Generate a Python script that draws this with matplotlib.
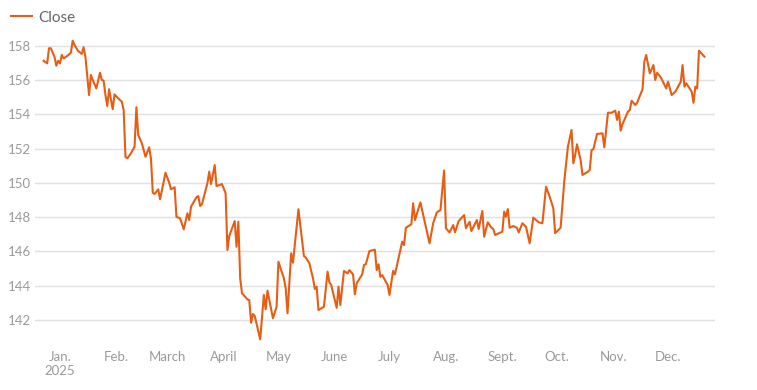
import matplotlib

matplotlib.use("Agg")

import matplotlib.pyplot as plt
import pandas as pd

LINE_COLOR = "#E85D14"
TEXT_COLOR = "#9a9a9a"
GRID_COLOR = "#e0e0e0"

# Closing prices (approximate turning points)
DATES = [
    "2024-12-23", "2024-12-25", "2024-12-26", "2024-12-27", "2024-12-29",
    "2024-12-30", "2024-12-31",
    "2025-01-01", "2025-01-02", "2025-01-03", "2025-01-05", "2025-01-07",
    "2025-01-08", "2025-01-09", "2025-01-11", "2025-01-13", "2025-01-14",
    "2025-01-15", "2025-01-17", "2025-01-18", "2025-01-19", "2025-01-21",
    "2025-01-23", "2025-01-24", "2025-01-25", "2025-01-26", "2025-01-27",
    "2025-01-28", "2025-01-30", "2025-01-31",
    "2025-02-02", "2025-02-04", "2025-02-05", "2025-02-06", "2025-02-07",
    "2025-02-09", "2025-02-11", "2025-02-12", "2025-02-13", "2025-02-15",
    "2025-02-17", "2025-02-19", "2025-02-20", "2025-02-21", "2025-02-22",
    "2025-02-24", "2025-02-25", "2025-02-28",
    "2025-03-02", "2025-03-03", "2025-03-05", "2025-03-06", "2025-03-08",
    "2025-03-10", "2025-03-12", "2025-03-13", "2025-03-14", "2025-03-17",
    "2025-03-18", "2025-03-19", "2025-03-20", "2025-03-23", "2025-03-24",
    "2025-03-25", "2025-03-27", "2025-03-28", "2025-03-31",
    "2025-04-02", "2025-04-03", "2025-04-04", "2025-04-07", "2025-04-08",
    "2025-04-09", "2025-04-10", "2025-04-11", "2025-04-14", "2025-04-15",
    "2025-04-16", "2025-04-17", "2025-04-18", "2025-04-21", "2025-04-23",
    "2025-04-24", "2025-04-25", "2025-04-28", "2025-04-30",
    "2025-05-01", "2025-05-04", "2025-05-05", "2025-05-06", "2025-05-08",
    "2025-05-09", "2025-05-12", "2025-05-15", "2025-05-16", "2025-05-18",
    "2025-05-20", "2025-05-21", "2025-05-22", "2025-05-23", "2025-05-26",
    "2025-05-28", "2025-05-29", "2025-05-30",
    "2025-06-02", "2025-06-03", "2025-06-04", "2025-06-06", "2025-06-08",
    "2025-06-09", "2025-06-11", "2025-06-12", "2025-06-13", "2025-06-16",
    "2025-06-17", "2025-06-18", "2025-06-20", "2025-06-23", "2025-06-24",
    "2025-06-25", "2025-06-26", "2025-06-27", "2025-06-30",
    "2025-07-01", "2025-07-03", "2025-07-04", "2025-07-08", "2025-07-09",
    "2025-07-10", "2025-07-13", "2025-07-14", "2025-07-15", "2025-07-18",
    "2025-07-23", "2025-07-25", "2025-07-27", "2025-07-29", "2025-07-31",
    "2025-08-01", "2025-08-03", "2025-08-05", "2025-08-06", "2025-08-08",
    "2025-08-11", "2025-08-12", "2025-08-14", "2025-08-15", "2025-08-18",
    "2025-08-19", "2025-08-21", "2025-08-22", "2025-08-24", "2025-08-26",
    "2025-08-27", "2025-08-28",
    "2025-09-01", "2025-09-02", "2025-09-03", "2025-09-04", "2025-09-05",
    "2025-09-07", "2025-09-09", "2025-09-10", "2025-09-12", "2025-09-14",
    "2025-09-16", "2025-09-18", "2025-09-21", "2025-09-23", "2025-09-25",
    "2025-09-27", "2025-09-29", "2025-09-30",
    "2025-10-03", "2025-10-05", "2025-10-07", "2025-10-09", "2025-10-10",
    "2025-10-11", "2025-10-12", "2025-10-14", "2025-10-15", "2025-10-18",
    "2025-10-19", "2025-10-20", "2025-10-21", "2025-10-23", "2025-10-26",
    "2025-10-27", "2025-10-29", "2025-10-31",
    "2025-11-02", "2025-11-03", "2025-11-04", "2025-11-05", "2025-11-06",
    "2025-11-09", "2025-11-10", "2025-11-11", "2025-11-13", "2025-11-14",
    "2025-11-17", "2025-11-18", "2025-11-19", "2025-11-21", "2025-11-23",
    "2025-11-24", "2025-11-25", "2025-11-27", "2025-11-30",
    "2025-12-01", "2025-12-03", "2025-12-05", "2025-12-08", "2025-12-09",
    "2025-12-10", "2025-12-11", "2025-12-14", "2025-12-15", "2025-12-16",
    "2025-12-17", "2025-12-18", "2025-12-21",
]

CLOSE = [
    157.12, 156.97, 157.85, 157.85, 157.36, 156.83, 157.12,
    156.97, 157.46, 157.26, 157.40, 157.59, 158.29, 158.04, 157.69, 157.52,
    157.91, 157.36, 155.12, 156.29, 156.00, 155.51, 156.42, 156.00, 155.96,
    155.12, 154.48, 155.46, 154.29, 155.16,
    154.93, 154.73, 154.25, 151.52, 151.43, 151.72, 152.11, 154.41, 152.79,
    152.31, 151.52, 152.07, 151.43, 149.42, 149.35, 149.62, 149.04, 150.59,
    150.01, 149.62, 149.74, 148.02, 147.93, 147.29, 148.22, 147.83, 148.61,
    149.16, 149.23, 148.65, 148.76, 149.97, 150.65, 149.93, 151.04, 149.81,
    149.93,
    149.39, 146.08, 146.90, 147.77, 146.27, 147.73, 144.43, 143.56, 143.20,
    143.16, 141.84, 142.35, 142.23, 140.87, 143.46, 142.62, 143.71, 142.10,
    142.77,
    145.40, 144.43, 143.85, 142.39, 145.89, 145.34, 148.46, 145.73, 145.65,
    145.31, 144.43, 143.81, 143.94, 142.58, 142.77, 144.82, 144.20, 144.04,
    142.71, 143.94, 142.87, 144.86, 144.72, 144.91, 144.66, 143.50, 144.14,
    144.66, 145.21, 145.25, 146.02, 146.10, 144.91, 145.25, 144.52, 144.62,
    144.04,
    143.46, 144.86, 144.66, 146.57, 146.37, 147.38, 147.58, 148.81, 147.83,
    148.86, 146.47, 147.64, 148.28, 148.41, 150.72,
    147.35, 147.11, 147.54, 147.11, 147.77, 148.12, 147.35, 147.73, 147.19,
    147.83, 147.31, 148.36, 146.86, 147.70, 147.38, 147.31, 146.96,
    147.15, 148.32, 148.02, 148.47, 147.38, 147.48, 147.38, 147.11, 147.64,
    147.44, 146.47, 147.97, 147.70, 147.64, 149.77, 149.19, 148.51, 147.06,
    147.38, 150.07, 152.11, 153.08, 151.14, 151.62, 152.25, 151.33, 150.46,
    150.65, 150.75, 151.92, 151.96, 152.85, 152.89, 152.07, 154.09, 154.09,
    154.21, 153.67, 154.15, 153.04, 153.43, 154.15, 154.25, 154.79, 154.54,
    154.67, 155.46, 157.07, 157.46, 156.39, 156.87, 156.00, 156.42, 156.16,
    155.51,
    155.90, 155.12, 155.32, 155.90, 156.87, 155.61, 155.81, 155.32, 154.67,
    155.61, 155.51, 157.71, 157.36,
]

Y_TICKS = [142, 144, 146, 148, 150, 152, 154, 156, 158]
MONTH_LABELS = ["Jan.\n2025", "Feb.", "March", "April", "May", "June",
                "July", "Aug.", "Sept.", "Oct.", "Nov.", "Dec."]

plt.rcParams["font.family"] = ["Lato", "DejaVu Sans"]

dates = pd.to_datetime(DATES)

fig = plt.figure(figsize=(7.57, 3.90), dpi=100)
ax = fig.add_axes([0.0462, 0.1136, 0.8983, 0.7956])

ax.plot(dates, CLOSE, color=LINE_COLOR, linewidth=1.5, label="Close")

ax.set_xlim(pd.Timestamp("2024-12-18 07:00"), pd.Timestamp("2025-12-26 19:00"))
ax.set_ylim(140.5, 158.6)

ax.set_yticks(Y_TICKS)
ax.set_yticklabels([str(t) for t in Y_TICKS])
month_starts = pd.date_range("2025-01-01", periods=12, freq="MS")
ax.set_xticks(month_starts)
ax.set_xticklabels(MONTH_LABELS)

ax.grid(axis="y", color=GRID_COLOR, linewidth=1.0)
ax.set_axisbelow(True)
for spine in ax.spines.values():
    spine.set_visible(False)

ax.tick_params(axis="both", length=0, labelsize=9.5, labelcolor=TEXT_COLOR)
ax.tick_params(axis="y", pad=3)
ax.tick_params(axis="x", pad=4)

legend = fig.legend(
    loc="upper left",
    bbox_to_anchor=(0.0, 1.0),
    frameon=False,
    fontsize=11,
    handlelength=1.4,
    handletextpad=0.4,
    borderaxespad=0.3,
)
for text in legend.get_texts():
    text.set_color("#666666")

fig.savefig("out.png", dpi=100)
